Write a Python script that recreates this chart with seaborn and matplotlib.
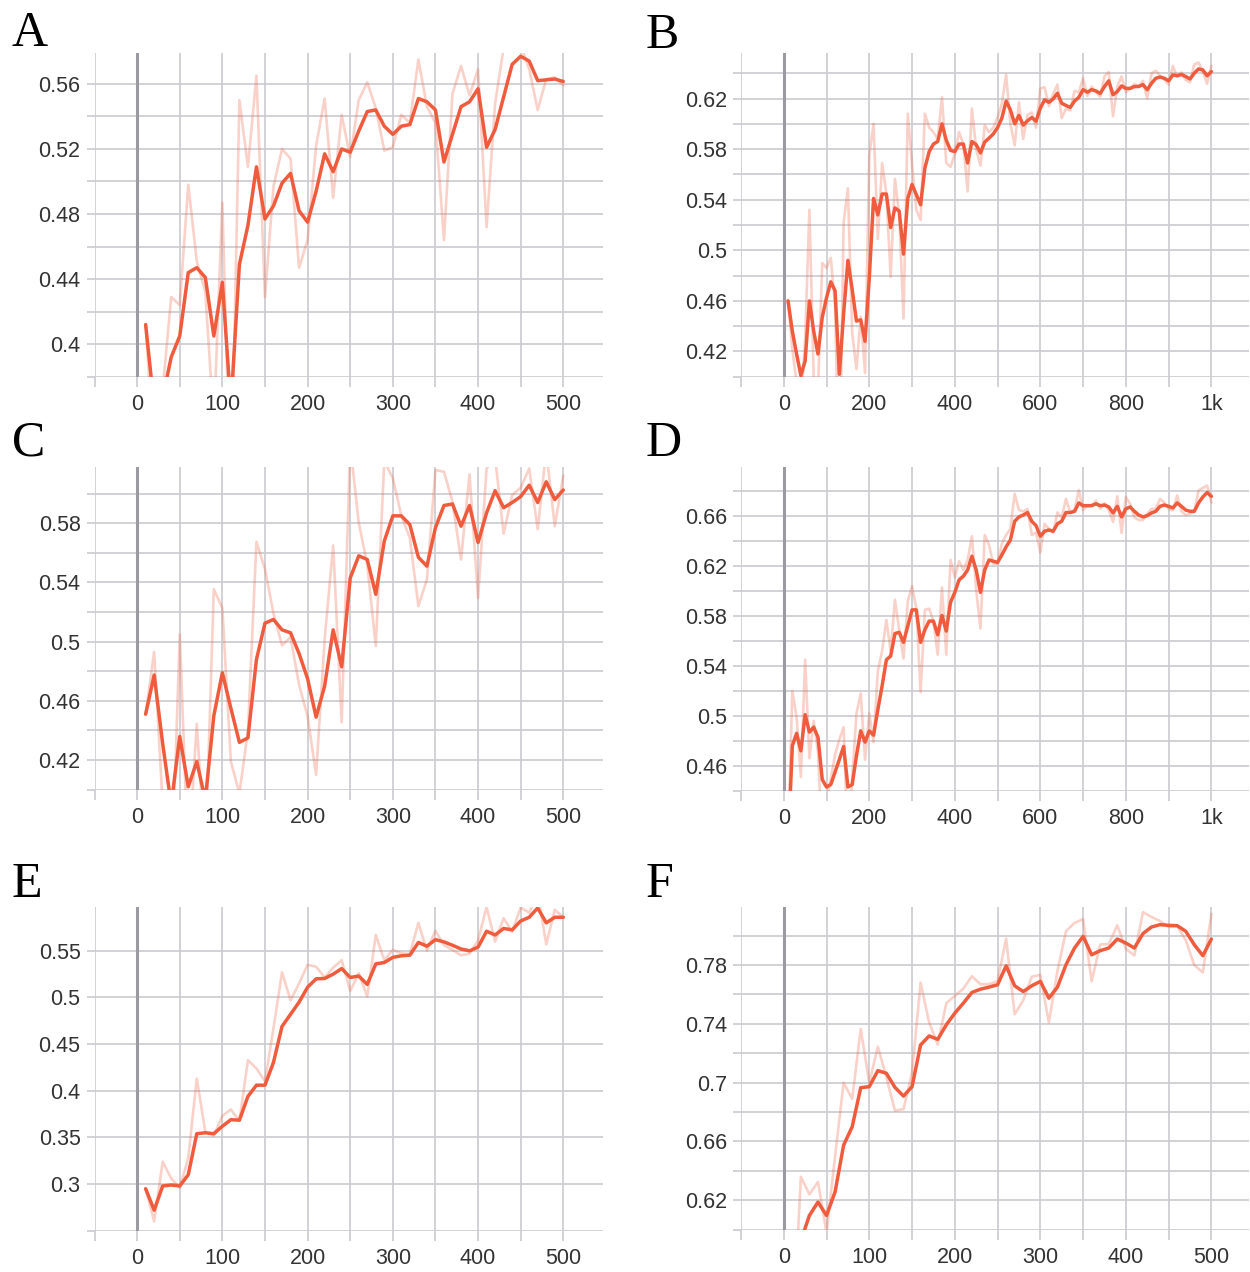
import matplotlib
matplotlib.use("Agg")
import matplotlib.pyplot as plt
import seaborn as sns
from matplotlib.ticker import FixedLocator, FuncFormatter

sns.set_theme(style="white")
plt.rcParams["font.family"] = ["Liberation Sans", "DejaVu Sans"]

# ---------------- data ----------------
steps_500 = list(range(10, 501, 10))
steps_1k = list(range(10, 1001, 10))

a_smooth = [0.412, 0.362, 0.367, 0.392, 0.405, 0.444, 0.447, 0.441, 0.405, 0.438,
            0.362, 0.449, 0.473, 0.509, 0.477, 0.485, 0.499, 0.505, 0.482, 0.475,
            0.494, 0.517, 0.506, 0.520, 0.518, 0.531, 0.543, 0.544, 0.534, 0.529,
            0.534, 0.535, 0.551, 0.549, 0.544, 0.512, 0.529, 0.546, 0.549, 0.557,
            0.521, 0.532, 0.552, 0.572, 0.577, 0.574, 0.562, 0.5625, 0.563, 0.5615]
a_raw = [0.412, 0.332, 0.372, 0.429, 0.424, 0.498, 0.451, 0.432, 0.351, 0.487,
         0.300, 0.550, 0.509, 0.565, 0.429, 0.497, 0.520, 0.514, 0.447, 0.464,
         0.522, 0.551, 0.490, 0.541, 0.515, 0.550, 0.561, 0.545, 0.519, 0.521,
         0.541, 0.536, 0.575, 0.546, 0.536, 0.464, 0.554, 0.571, 0.553, 0.569,
         0.472, 0.548, 0.582, 0.602, 0.584, 0.569, 0.544, 0.563, 0.564, 0.559]

b_smooth = [0.460, 0.436, 0.418, 0.401, 0.4125, 0.460, 0.436, 0.418, 0.447, 0.4625,
            0.475, 0.468, 0.402, 0.450, 0.492, 0.469, 0.444, 0.445, 0.428, 0.478,
            0.541, 0.528, 0.5445, 0.5445, 0.518, 0.5335, 0.531, 0.497, 0.541, 0.552,
            0.544, 0.536, 0.565, 0.578, 0.584, 0.586, 0.600, 0.587, 0.579, 0.578,
            0.584, 0.584, 0.569, 0.586, 0.5835, 0.577, 0.5856, 0.5887, 0.592, 0.597,
            0.6045, 0.618, 0.611, 0.600, 0.6066, 0.599, 0.6024, 0.605, 0.602, 0.6124,
            0.619, 0.617, 0.6197, 0.6242, 0.6163, 0.6145, 0.613, 0.618, 0.621, 0.627,
            0.625, 0.627, 0.626, 0.624, 0.6295, 0.634, 0.623, 0.6255, 0.630, 0.628,
            0.628, 0.6295, 0.6295, 0.631, 0.627, 0.632, 0.636, 0.637, 0.636, 0.634,
            0.6387, 0.638, 0.639, 0.6374, 0.6355, 0.640, 0.6434, 0.6426, 0.638, 0.6413]
b_raw = [0.460, 0.422, 0.395, 0.375, 0.430, 0.532, 0.400, 0.390, 0.490, 0.486,
         0.494, 0.456, 0.304, 0.522, 0.549, 0.435, 0.406, 0.4475, 0.403, 0.575,
         0.600, 0.509, 0.569, 0.5445, 0.479, 0.5565, 0.528, 0.446, 0.608, 0.568,
         0.532, 0.524, 0.608, 0.597, 0.5935, 0.588, 0.621, 0.569, 0.566, 0.576,
         0.5935, 0.584, 0.5465, 0.612, 0.580, 0.567, 0.599, 0.5934, 0.597, 0.605,
         0.616, 0.639, 0.600, 0.583, 0.617, 0.588, 0.607, 0.609, 0.597, 0.628,
         0.629, 0.614, 0.6236, 0.631, 0.6045, 0.612, 0.6105, 0.626, 0.625, 0.636,
         0.622, 0.6295, 0.625, 0.6214, 0.6375, 0.641, 0.606, 0.6294, 0.6375, 0.625,
         0.628, 0.6315, 0.6295, 0.634, 0.620, 0.640, 0.642, 0.638, 0.635, 0.631,
         0.6457, 0.6374, 0.6407, 0.6347, 0.6327, 0.6468, 0.6485, 0.6414, 0.6316, 0.646]

c_smooth = [0.451, 0.4775, 0.431, 0.390, 0.436, 0.402, 0.419, 0.393, 0.450, 0.479,
            0.455, 0.432, 0.435, 0.488, 0.5125, 0.515, 0.508, 0.506, 0.492, 0.475,
            0.449, 0.470, 0.508, 0.483, 0.543, 0.558, 0.5555, 0.532, 0.568, 0.585,
            0.585, 0.579, 0.557, 0.551, 0.577, 0.592, 0.593, 0.578, 0.592, 0.567,
            0.587, 0.602, 0.5905, 0.594, 0.598, 0.6057, 0.594, 0.608, 0.596, 0.6025]
c_raw = [0.451, 0.493, 0.390, 0.3285, 0.505, 0.351, 0.4445, 0.354, 0.5355, 0.5225,
         0.419, 0.3975, 0.4395, 0.5675, 0.549, 0.519, 0.4975, 0.503, 0.471, 0.4495,
         0.410, 0.5015, 0.565, 0.4455, 0.633, 0.5805, 0.552, 0.497, 0.622, 0.6105,
         0.585, 0.570, 0.524, 0.542, 0.616, 0.6148, 0.5945, 0.5555, 0.613, 0.5295,
         0.617, 0.6245, 0.573, 0.599, 0.604, 0.617, 0.576, 0.629, 0.578, 0.6122]

d_smooth = [0.395, 0.476, 0.486, 0.472, 0.501, 0.487, 0.491, 0.483, 0.449, 0.443,
            0.445, 0.455, 0.465, 0.4755, 0.443, 0.445, 0.468, 0.488, 0.479, 0.488,
            0.4845, 0.505, 0.524, 0.545, 0.548, 0.566, 0.567, 0.559, 0.572, 0.585,
            0.585, 0.559, 0.569, 0.576, 0.576, 0.565, 0.5805, 0.568, 0.591, 0.599,
            0.609, 0.612, 0.617, 0.628, 0.617, 0.599, 0.617, 0.625, 0.624, 0.623,
            0.629, 0.6355, 0.641, 0.656, 0.6595, 0.661, 0.663, 0.656, 0.6525, 0.644,
            0.648, 0.649, 0.648, 0.654, 0.656, 0.663, 0.663, 0.664, 0.6707, 0.6685,
            0.6685, 0.6685, 0.670, 0.6685, 0.669, 0.6675, 0.6627, 0.668, 0.6595, 0.666,
            0.6675, 0.664, 0.661, 0.6595, 0.6605, 0.6627, 0.664, 0.668, 0.669, 0.668,
            0.6667, 0.6707, 0.668, 0.665, 0.664, 0.664, 0.6707, 0.6755, 0.679, 0.676]
d_raw = [0.395, 0.520, 0.499, 0.451, 0.545, 0.466, 0.496, 0.471, 0.399, 0.433,
         0.449, 0.469, 0.481, 0.491, 0.394, 0.449, 0.502, 0.518, 0.465, 0.502,
         0.479, 0.536, 0.552, 0.577, 0.552, 0.593, 0.569, 0.546, 0.592, 0.604,
         0.586, 0.519, 0.585, 0.586, 0.576, 0.549, 0.603, 0.549, 0.625, 0.611,
         0.624, 0.617, 0.625, 0.644, 0.601, 0.570, 0.645, 0.637, 0.622, 0.622,
         0.638, 0.645, 0.650, 0.678, 0.665, 0.664, 0.666, 0.645, 0.647, 0.631,
         0.654, 0.650, 0.647, 0.663, 0.659, 0.674, 0.663, 0.665, 0.681, 0.665,
         0.6685, 0.6685, 0.6725, 0.666, 0.6705, 0.665, 0.6555, 0.676, 0.6467, 0.6755,
         0.670, 0.659, 0.657, 0.657, 0.662, 0.666, 0.666, 0.674, 0.671, 0.666,
         0.6647, 0.6767, 0.664, 0.661, 0.662, 0.664, 0.6807, 0.6827, 0.6847, 0.671]

e_smooth = [0.295, 0.272, 0.298, 0.299, 0.298, 0.310, 0.354, 0.355, 0.354, 0.362,
            0.369, 0.3685, 0.394, 0.406, 0.406, 0.4305, 0.469, 0.482, 0.495, 0.511,
            0.520, 0.5204, 0.525, 0.531, 0.5215, 0.523, 0.514, 0.536, 0.5375, 0.543,
            0.5447, 0.5454, 0.559, 0.555, 0.562, 0.5596, 0.556, 0.552, 0.550, 0.554,
            0.571, 0.567, 0.574, 0.5725, 0.582, 0.586, 0.596, 0.580, 0.586, 0.586]
e_raw = [0.295, 0.260, 0.324, 0.306, 0.296, 0.328, 0.413, 0.356, 0.352, 0.373,
         0.380, 0.3675, 0.4327, 0.424, 0.410, 0.467, 0.527, 0.497, 0.515, 0.535,
         0.533, 0.5215, 0.532, 0.540, 0.507, 0.526, 0.501, 0.567, 0.540, 0.551,
         0.5474, 0.5465, 0.580, 0.550, 0.5716, 0.556, 0.551, 0.5453, 0.547, 0.561,
         0.597, 0.560, 0.585, 0.5704, 0.5965, 0.591, 0.612, 0.557, 0.594, 0.586]

f_smooth = [0.520, 0.5925, 0.6097, 0.6188, 0.6097, 0.6257, 0.6575, 0.670, 0.6966, 0.6973,
            0.7082, 0.7064, 0.6968, 0.6909, 0.6973, 0.7257, 0.7318, 0.7295, 0.7393, 0.7473,
            0.7541, 0.7614, 0.7636, 0.765, 0.7666, 0.7795, 0.7659, 0.762, 0.7659, 0.7689,
            0.7575, 0.765, 0.7802, 0.7916, 0.7995, 0.787, 0.7898, 0.7916, 0.7977, 0.795,
            0.7916, 0.8014, 0.8059, 0.8075, 0.807, 0.8068, 0.803, 0.7939, 0.7864, 0.7977]
f_raw = [0.520, 0.636, 0.624, 0.6325, 0.598, 0.650, 0.700, 0.689, 0.7365, 0.700,
         0.7245, 0.7037, 0.681, 0.682, 0.707, 0.768, 0.741, 0.726, 0.754, 0.759,
         0.764, 0.7724, 0.767, 0.767, 0.769, 0.798, 0.7465, 0.756, 0.772, 0.7734,
         0.741, 0.776, 0.803, 0.8087, 0.8113, 0.769, 0.794, 0.7943, 0.807, 0.791,
         0.7865, 0.816, 0.8127, 0.810, 0.806, 0.8065, 0.797, 0.780, 0.775, 0.8147]

# tick labels
x500_major = [0, 100, 200, 300, 400, 500]
x500_minor = [-50, 50, 150, 250, 350, 450]
x500_labels = ["0", "100", "200", "300", "400", "500"]
x1k_major = [0, 200, 400, 600, 800, 1000]
x1k_minor = [-100, 100, 300, 500, 700, 900]
x1k_labels = ["0", "200", "400", "600", "800", "1k"]

a_yticks = [0.40, 0.44, 0.48, 0.52, 0.56]
a_yminor = [0.38, 0.42, 0.46, 0.50, 0.54]
b_yticks = [0.42, 0.46, 0.50, 0.54, 0.58, 0.62]
b_yminor = [0.40, 0.44, 0.48, 0.52, 0.56, 0.60, 0.64]
c_yticks = [0.42, 0.46, 0.50, 0.54, 0.58]
c_yminor = [0.40, 0.44, 0.48, 0.52, 0.56, 0.60]
d_yticks = [0.46, 0.50, 0.54, 0.58, 0.62, 0.66]
d_yminor = [0.44, 0.48, 0.52, 0.56, 0.60, 0.64, 0.68]
e_yticks = [0.30, 0.35, 0.40, 0.45, 0.50, 0.55]
e_yminor = [0.25]
f_yticks = [0.62, 0.66, 0.70, 0.74, 0.78]
f_yminor = [0.60, 0.64, 0.68, 0.72, 0.76, 0.80]

# ---------------- figure ----------------
W, H = 1250, 1272
fig = plt.figure(figsize=(W / 100, H / 100), dpi=100)

GRID = "#cbcbd0"
ZERO = "#9a9aa0"
LINE = "#ef5b3c"
TXT = "#333333"

panels = [
    ("A", (94.5, 53, 602.5, 377), steps_500, a_smooth, a_raw, (-50, 546), (0.3798, 0.579),
     x500_major, x500_minor, x500_labels, a_yticks, a_yminor, (12, 46)),
    ("B", (741, 53, 1249, 377), steps_1k, b_smooth, b_raw, (-100, 1088), (0.3998, 0.656),
     x1k_major, x1k_minor, x1k_labels, b_yticks, b_yminor, (646, 48)),
    ("C", (94.5, 467, 602.5, 790), steps_500, c_smooth, c_raw, (-50, 546), (0.3998, 0.618),
     x500_major, x500_minor, x500_labels, c_yticks, c_yminor, (12, 456)),
    ("D", (741, 467, 1249, 791), steps_1k, d_smooth, d_raw, (-100, 1088), (0.4398, 0.6995),
     x1k_major, x1k_minor, x1k_labels, d_yticks, d_yminor, (646, 456)),
    ("E", (94.5, 907, 602.5, 1231), steps_500, e_smooth, e_raw, (-50, 546), (0.2497, 0.597),
     x500_major, x500_minor, x500_labels, e_yticks, e_yminor, (12, 897)),
    ("F", (741, 907, 1249, 1230), steps_500, f_smooth, f_raw, (-50, 544), (0.5998, 0.8195),
     x500_major, x500_minor, x500_labels, f_yticks, f_yminor, (646, 897)),
]

fmt = FuncFormatter(lambda v, p: f"{v:g}")

for (letter, box, steps, smooth, raw, xlim, ylim, xmaj, xmin, xlab,
     ymaj, ymin, lpos) in panels:
    l, t, r, b = box
    ax = fig.add_axes([l / W, 1 - b / H, (r - l) / W, (b - t) / H])
    ax.set_facecolor("white")
    sns.lineplot(x=steps, y=raw, ax=ax, color=LINE, alpha=0.28, linewidth=1.9,
                 zorder=3, legend=False)
    sns.lineplot(x=steps, y=smooth, ax=ax, color=LINE, linewidth=2.5,
                 zorder=4, legend=False)
    ax.axvline(0, color=ZERO, linewidth=2.2, zorder=2)
    ax.set_xlim(*xlim)
    ax.set_ylim(*ylim)
    ax.xaxis.set_major_locator(FixedLocator(xmaj))
    ax.xaxis.set_minor_locator(FixedLocator(xmin))
    ax.set_xticklabels(xlab)
    ax.yaxis.set_major_locator(FixedLocator(ymaj))
    ax.yaxis.set_minor_locator(FixedLocator(ymin))
    ax.yaxis.set_major_formatter(fmt)
    ax.grid(True, which="both", color=GRID, linewidth=1.2, zorder=1)
    ax.set_axisbelow(True)
    for s in ax.spines.values():
        s.set_visible(False)
    ax.tick_params(axis="x", which="both", direction="out", length=7.5, width=1.2,
                   color=GRID, pad=5, labelsize=15.5, labelcolor=TXT, bottom=True)
    ax.tick_params(axis="y", which="both", direction="out", length=6, width=1.2,
                   color=GRID, pad=4, labelsize=15.5, labelcolor=TXT, left=True)
    ax.set_xlabel("")
    ax.set_ylabel("")
    fig.text(lpos[0] / W, 1 - lpos[1] / H, letter, fontsize=36,
             family=["Liberation Serif", "DejaVu Serif"], va="baseline", ha="left",
             color="black")

fig.savefig("out.png", dpi=100, facecolor="white")
